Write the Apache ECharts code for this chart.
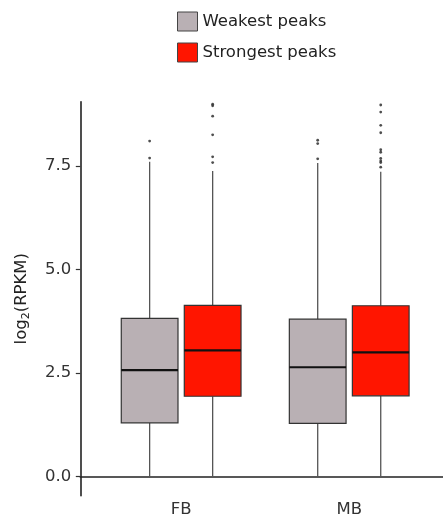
<!DOCTYPE html>
<html>
<head>
<meta charset="utf-8">
<script src="https://cdn.jsdelivr.net/npm/echarts@6/dist/echarts.min.js"></script>
<style>
  html, body { margin: 0; padding: 0; background: #fff; }
  #chart { width: 443px; height: 521px; }
</style>
</head>
<body>
<div id="chart"></div>
<script>
// Sample groups along the x axis
const categories = ['FB', 'MB'];
const seriesNames = ['Weakest peaks', 'Strongest peaks'];
const seriesColors = ['#B9B0B4', '#FF1500'];

// Box statistics per group: [lower whisker, Q1, median, Q3, upper whisker]
const weakestBox = [
  [0, 1.30, 2.57, 3.82, 7.60],
  [0, 1.285, 2.64, 3.80, 7.57]
];
const strongestBox = [
  [0, 1.94, 3.05, 4.135, 7.38],
  [0, 1.95, 3.00, 4.125, 7.36]
];

// Points beyond the whiskers, per group
const weakestOutliers = [
  [8.10, 7.69],
  [8.12, 8.04, 7.67]
];
const strongestOutliers = [
  [8.99, 8.95, 8.70, 8.25, 7.72, 7.58],
  [8.97, 8.80, 8.48, 8.30, 7.89, 7.83, 7.68, 7.62, 7.58, 7.47]
];

// Y axis tick labels
const yTicks = [0, 2.5, 5, 7.5];

const FONT = 'DejaVu Sans';
const FONT_SIZE = 16.5;
const DODGE = 0.1875;      // half of the dodge width, in category units
const BOX_WIDTH = 0.3375;  // box width, in category units

function boxData(stats, shift) {
  return stats.map((s, i) => [i + 1 + shift].concat(s));
}
function outlierData(lists, shift) {
  const out = [];
  lists.forEach((vals, i) => vals.forEach(v => out.push([i + 1 + shift, v])));
  return out;
}

function makeRenderItem(color) {
  return function (params, api) {
    const x = api.value(0);
    const pLo = api.coord([x, api.value(1)]);
    const pQ1 = api.coord([x, api.value(2)]);
    const pMed = api.coord([x, api.value(3)]);
    const pQ3 = api.coord([x, api.value(4)]);
    const pHi = api.coord([x, api.value(5)]);
    const half = api.size([BOX_WIDTH, 0])[0] / 2;
    const whisker = { stroke: '#555', lineWidth: 1.3 };
    return {
      type: 'group',
      children: [
        { type: 'line', shape: { x1: pHi[0], y1: pHi[1], x2: pQ3[0], y2: pQ3[1] }, style: whisker },
        { type: 'line', shape: { x1: pLo[0], y1: pLo[1], x2: pQ1[0], y2: pQ1[1] }, style: whisker },
        {
          type: 'rect',
          shape: { x: pQ3[0] - half, y: pQ3[1], width: half * 2, height: pQ1[1] - pQ3[1] },
          style: { fill: color, stroke: '#333', lineWidth: 1.2 }
        },
        {
          type: 'line',
          shape: { x1: pMed[0] - half, y1: pMed[1], x2: pMed[0] + half, y2: pMed[1] },
          style: { stroke: '#111', lineWidth: 2.2 }
        }
      ]
    };
  };
}

const chart = echarts.init(document.getElementById('chart'), null, { renderer: 'canvas' });

chart.setOption({
  animation: false,
  backgroundColor: '#fff',
  textStyle: { fontFamily: FONT },
  legend: {
    orient: 'vertical',
    left: 177,
    top: 11.5,
    padding: 0,
    itemWidth: 20,
    itemHeight: 19,
    itemGap: 11,
    icon: 'rect',
    textStyle: { fontFamily: FONT, fontSize: FONT_SIZE, color: '#222' },
    data: seriesNames.map((n, i) => ({
      name: n,
      itemStyle: { color: seriesColors[i], borderColor: '#444', borderWidth: 1 }
    }))
  },
  grid: { left: 80.3, right: 0, top: 101.7, bottom: 25.3, containLabel: false },
  xAxis: {
    type: 'value',
    min: 0.4,
    max: 2.558,
    axisLine: { show: true, lineStyle: { color: '#222', width: 1.6 } },
    axisTick: { show: false },
    splitLine: { show: false },
    axisLabel: {
      customValues: [1, 2],
      formatter: v => categories[Math.round(v) - 1] || '',
      fontFamily: FONT,
      fontSize: FONT_SIZE,
      color: '#333',
      margin: 6
    }
  },
  yAxis: {
    type: 'value',
    min: -0.46,
    max: 9.05,
    name: '{n|log}{s|2}{n|(RPKM)}',
    nameLocation: 'middle',
    nameGap: 49,
    nameTextStyle: {
      rich: {
        n: { fontFamily: FONT, fontSize: FONT_SIZE, color: '#222', lineHeight: 20 },
        s: { fontFamily: FONT, fontSize: 11, color: '#222', lineHeight: 20, verticalAlign: 'bottom', padding: [9, 0, 0, 0] }
      }
    },
    axisLine: { show: true, lineStyle: { color: '#222', width: 1.6 } },
    axisTick: {
      show: true,
      customValues: yTicks,
      length: 4.5,
      lineStyle: { color: '#333', width: 1.2 }
    },
    splitLine: { show: false },
    axisLabel: {
      customValues: yTicks,
      formatter: v => v.toFixed(1),
      fontFamily: FONT,
      fontSize: FONT_SIZE,
      color: '#333',
      margin: 9
    }
  },
  series: [
    {
      name: seriesNames[0],
      type: 'custom',
      renderItem: makeRenderItem(seriesColors[0]),
      itemStyle: { color: seriesColors[0] },
      encode: { x: 0, y: [1, 2, 3, 4, 5] },
      data: boxData(weakestBox, -DODGE),
      z: 2
    },
    {
      name: seriesNames[1],
      type: 'custom',
      renderItem: makeRenderItem(seriesColors[1]),
      itemStyle: { color: seriesColors[1] },
      encode: { x: 0, y: [1, 2, 3, 4, 5] },
      data: boxData(strongestBox, DODGE),
      z: 2
    },
    {
      name: seriesNames[0],
      type: 'scatter',
      symbol: 'circle',
      symbolSize: 2.8,
      itemStyle: { color: '#222' },
      data: outlierData(weakestOutliers, -DODGE),
      z: 3
    },
    {
      name: seriesNames[1],
      type: 'scatter',
      symbol: 'circle',
      symbolSize: 2.8,
      itemStyle: { color: '#222' },
      data: outlierData(strongestOutliers, DODGE),
      z: 3
    }
  ]
});
</script>
</body>
</html>
